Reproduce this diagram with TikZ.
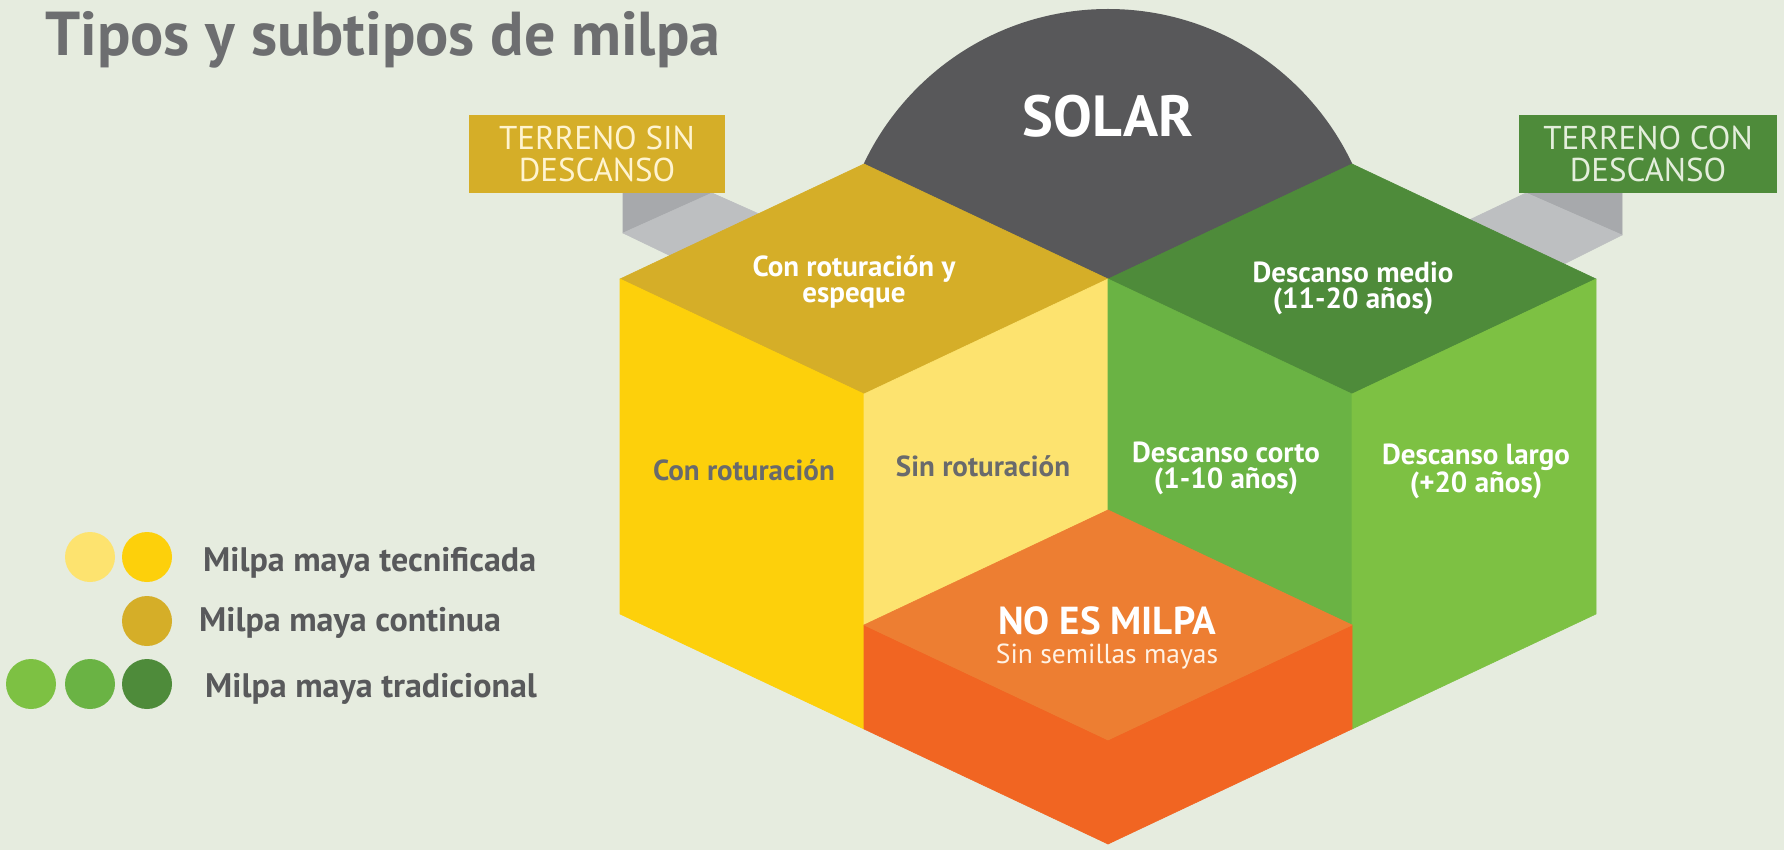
\documentclass[tikz,border=0pt]{standalone}
\usepackage{fontspec}
\setmainfont{PT Sans}
\definecolor{bg}{RGB}{230,236,223}
\definecolor{titlegray}{RGB}{109,110,112}
\definecolor{txtgray}{RGB}{88,89,91}
\definecolor{facegray}{RGB}{105,106,108}
\definecolor{solar}{RGB}{88,88,90}
\definecolor{gold}{RGB}{213,174,40}
\definecolor{yel}{RGB}{253,208,11}
\definecolor{lyel}{RGB}{253,227,111}
\definecolor{dgreen}{RGB}{78,139,58}
\definecolor{mgreen}{RGB}{106,179,68}
\definecolor{lgreen}{RGB}{125,193,67}
\definecolor{otop}{RGB}{237,126,50}
\definecolor{ofront}{RGB}{241,101,34}
\definecolor{gdark}{RGB}{167,169,172}
\definecolor{glight}{RGB}{189,191,193}
\definecolor{cream}{RGB}{255,244,208}
\definecolor{paleg}{RGB}{228,238,220}
\definecolor{palew}{RGB}{255,242,228}
\begin{document}
\begin{tikzpicture}[x=1pt,y=-1pt,
  face/.style={line width=0.6pt,line join=round},
  lbl/.style={inner sep=0pt,align=center,font=\bfseries\fontsize{29}{26}\selectfont},
  boxlbl/.style={inner sep=0pt,align=center,minimum width=256pt,minimum height=78pt,font=\fontsize{33}{32}\selectfont},
  legtxt/.style={anchor=base west,inner sep=0pt,text=txtgray,font=\bfseries\fontsize{34}{38}\selectfont},
  dot/.style={circle,inner sep=0pt,minimum size=50pt}]
\useasboundingbox (0,0) rectangle (1784,850);
\fill[bg] (0,0) rectangle (1784,850);
% key vertices
\coordinate (L) at (620,279);
\coordinate (T1) at (864,164);
\coordinate (C) at (1108,279);
\coordinate (B1) at (864,394);
\coordinate (T2) at (1352,164);
\coordinate (R) at (1596,279);
\coordinate (B2) at (1352,394);
\coordinate (LB) at (620,614);
\coordinate (YB) at (864,729);
\coordinate (OT) at (1108,510);
\coordinate (OL) at (864,625);
\coordinate (OR) at (1352,625);
\coordinate (OB) at (1108,740);
\coordinate (OBB) at (1108,844);
\coordinate (GB) at (1352,729);
\coordinate (RB) at (1596,614);
% title
\node[anchor=base west,inner sep=0pt,text=titlegray,font=\bfseries\fontsize{62}{64}\selectfont] (title) at (45,56) {Tipos y subtipos de milpa};
% solar
\fill[solar] (C) circle[radius=270];
% gray connectors
\filldraw[face,gdark] (623,193) -- (712,193) -- (623,233) -- cycle;
\filldraw[face,glight] (623,233) -- (712,193) -- (795,230) -- (700,270) -- cycle;
\filldraw[face,gdark] (1527,193) -- (1622,193) -- (1622,235) -- cycle;
\filldraw[face,glight] (1465,222) -- (1526,193) -- (1622,235) -- (1560,266) -- cycle;
% boxes
\node[boxlbl,fill=gold,text=cream] (sin) at (597,154) {TERRENO SIN\\DESCANSO};
\node[boxlbl,fill=dgreen,text=paleg,minimum width=258pt] (con) at (1648,154) {TERRENO CON\\DESCANSO};
% faces
\filldraw[face,gold] (L) -- (T1) -- (C) -- (B1) -- cycle;
\filldraw[face,dgreen] (C) -- (T2) -- (R) -- (B2) -- cycle;
\filldraw[face,yel] (L) -- (B1) -- (YB) -- (LB) -- cycle;
\filldraw[face,lyel] (B1) -- (C) -- (OT) -- (OL) -- cycle;
\filldraw[face,mgreen] (C) -- (B2) -- (OR) -- (OT) -- cycle;
\filldraw[face,lgreen] (B2) -- (R) -- (RB) -- (GB) -- cycle;
\filldraw[face,ofront] (OL) -- (OB) -- (OBB) -- (YB) -- cycle;
\filldraw[face,ofront] (OB) -- (OR) -- (GB) -- (OBB) -- cycle;
\filldraw[face,otop] (OT) -- (OR) -- (OB) -- (OL) -- cycle;
% labels
\node[anchor=base,inner sep=0pt,text=white,font=\bfseries\fontsize{58}{60}\selectfont] (solarlbl) at (1108,137) {SOLAR};
\node[lbl,text=white] (espeque) at (854,282) {Con roturación y\\espeque};
\node[lbl,text=white] (medio) at (1353,288) {Descanso medio\\(11-20 años)};
\node[lbl,anchor=base,text=facegray] (conrot) at (744,480) {Con roturación};
\node[lbl,anchor=base,text=facegray] (sinrot) at (983,476) {Sin roturación};
\node[lbl,text=white] (corto) at (1226,468) {Descanso corto\\(1-10 años)};
\node[lbl,text=white] (largo) at (1476,471) {Descanso largo\\(+20 años)};
\node[anchor=base,inner sep=0pt,text=white,font=\bfseries\fontsize{39}{42}\selectfont] (noes) at (1107,634) {NO ES MILPA};
\node[anchor=base,inner sep=0pt,text=palew,font=\fontsize{27.5}{30}\selectfont] (semillas) at (1107,663) {Sin semillas mayas};
% legend
\node[dot,fill=lyel] (d1) at (90,557) {};
\node[dot,fill=yel] (d2) at (147,557) {};
\node[dot,fill=gold] (d3) at (147,621) {};
\node[dot,fill=lgreen] (d4) at (31,684) {};
\node[dot,fill=mgreen] (d5) at (90,684) {};
\node[dot,fill=dgreen] (d6) at (147,684) {};
\node[legtxt] (tec) at (203,571) {Milpa maya tecnificada};
\node[legtxt] (cont) at (199,631) {Milpa maya continua};
\node[legtxt] (trad) at (205,697) {Milpa maya tradicional};
\end{tikzpicture}
\end{document}
